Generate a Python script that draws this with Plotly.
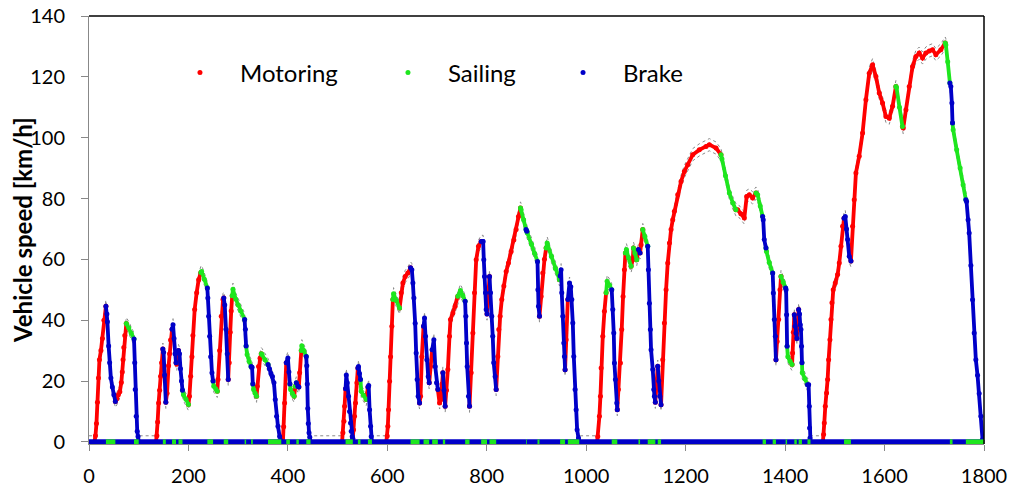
import plotly.graph_objects as go

# ---------------- data ----------------
# Phase 1 (low)
t_low = [0, 11, 13, 15, 17, 19, 21, 24, 27, 30, 34,
         36, 37, 39.5, 41.5, 44, 47, 50, 53,
         56, 59, 62, 65, 67, 68.5, 70, 72, 75,
         80, 85, 90.5,
         92, 93, 95, 97, 98.6, 100,
         135, 136.5, 138, 140, 142, 144, 146, 148.5,
         150, 152, 154.5,
         157, 160, 162, 164, 167,
         169, 171, 173, 175,
         176.5, 178, 180,
         182, 184, 186, 188,
         190, 195, 200,
         202, 204.5, 207, 209, 212.5, 216.5, 220.5, 225,
         226.5, 232, 238,
         239, 240.6, 242.6, 244.7, 247.3, 249.5,
         251, 255, 258,
         259.5, 262.7, 266, 269.5, 271,
         273, 275.5, 278, 280,
         282, 284, 286, 288,
         289.5, 295, 300, 305, 313,
         314.5, 316,
         318, 322, 326,
         328, 329.5,
         331, 334, 337,
         338.5, 341, 344, 346.5,
         348, 354, 360,
         363, 366, 369, 372, 374.6, 377.3, 380, 383.4, 386.7,
         390, 391.5, 393.4, 396.7,
         400, 402, 404,
         405.5, 409, 412.5,
         415, 417, 420, 422,
         423.6, 427,
         428, 432, 437,
         438, 439, 440, 441, 442.5, 444, 445.5,
         509, 510.6, 512.7, 514, 516,
         517.5, 519.4, 522, 524, 526, 527.4, 529.4, 530.5,
         532, 534, 536, 538.8, 540.8,
         542, 544, 546,
         547.5, 552, 557.6,
         559, 561,
         562.5, 564.3, 566.3, 567.6, 569,
         598]
v_low = [0, 0, 2, 6, 13, 21, 27, 30, 34, 40, 44.6,
         42, 39.5, 31.5, 26, 21, 18, 15.5, 13.3,
         14.2, 15.5, 16.5, 19.5, 23, 27, 31, 35, 38.9,
         37.5, 35.7, 33.8,
         26, 17.2, 8.4, 3.5, 1.8, 0,
         0, 2, 6.5, 12.8, 17, 21.6, 26, 30.5,
         29.5, 22, 13,
         16, 25, 29, 33.5, 37,
         38.5, 34, 29, 26,
         25.5, 28, 30,
         29, 24, 20, 17,
         15.5, 14, 12.3,
         15, 21.6, 28, 35, 43.5, 49, 53.3, 55.7,
         56, 53.5, 50.6,
         47.3, 41.3, 34.7, 28, 22.7, 20,
         18.3, 17.4, 16.6,
         20.5, 30, 41.3, 46.8, 47.3,
         45, 37, 29, 20.5,
         26, 36, 43, 48,
         50.2, 47, 45, 43, 40.2,
         37, 31.5,
         28.7, 26.5, 24.8,
         24.5, 19,
         17.2, 16, 15,
         18.3, 24.8, 27.5, 29,
         28.7, 27, 25.4,
         24, 22.5, 21.5, 19.4, 13.9, 8.4, 5.1, 1.8, 0,
         0, 5, 12.8, 26,
         27.6, 23, 19,
         17.2, 16, 15,
         18.3, 19.4, 18.3, 18,
         22.7, 30,
         31.6, 30, 28.1,
         25, 19, 11, 6, 3, 1.5, 0,
         0, 3, 6.8, 11.7, 17.5,
         22, 19.4, 15, 10, 6.2, 3.5, 1.8, 1,
         4, 8.4, 12.8, 19.4, 24.3,
         24.8, 22.5, 20.5,
         16.6, 15.3, 13.9,
         15.5, 18,
         18.5, 10.6, 5.1, 1.8, 0,
         0]
m_low = (["I", "I"] + ["M"] * 9 +
         ["B"] * 8 +
         ["M"] * 9 +
         ["S"] * 3 +
         ["B"] * 6 +
         ["I"] + ["M"] * 7 +
         ["B"] * 3 +
         ["M"] * 5 +
         ["B"] * 4 +
         ["M"] * 3 +
         ["B"] * 4 +
         ["S"] * 3 +
         ["M"] * 8 +
         ["S"] * 3 +
         ["B"] * 6 +
         ["S"] * 3 +
         ["M"] * 5 +
         ["B"] * 4 +
         ["M"] * 4 +
         ["S"] * 5 +
         ["B"] * 2 +
         ["S"] * 3 +
         ["B"] * 2 +
         ["S"] * 3 +
         ["M"] * 4 +
         ["S"] * 3 +
         ["B"] * 9 +
         ["I", "M", "M", "M"] +
         ["B"] * 3 +
         ["S"] * 3 +
         ["M", "S", "B", "B"] +
         ["M"] * 2 +
         ["S"] * 3 +
         ["B"] * 7 +
         ["I"] + ["M"] * 4 +
         ["B"] * 8 +
         ["M"] * 5 +
         ["B"] * 3 +
         ["S"] * 3 +
         ["M"] * 2 +
         ["B"] * 5 +
         ["I"])

# Phase 2 (medium)
t_mid = [599.8, 601, 602.4, 604.5, 606.5, 609.1, 611.2,
         612.5, 618, 624.6,
         628, 631.3, 636, 641.3, 646.7,
         649.3, 651.4, 653.4, 656, 658, 660, 662, 664.8,
         666.8, 669.4, 672.8,
         674.8, 676.8, 679.5, 682.2, 684.2,
         686.9, 690.2,
         693.6, 696.3, 698.9, 701.6,
         705, 708, 710, 711.7,
         714, 716.3,
         719, 721.7, 725, 727, 731.8, 736.4, 741.8,
         747, 752, 756.5,
         757.9, 759.2, 760.6, 763.2, 765.3,
         768.6, 772, 775.3, 778.7, 783.3, 788.7,
         792.7, 794, 795.4, 797.4, 798.8, 800.5,
         803, 805.5,
         807.5, 810, 812, 814, 816.8, 818.9,
         822.2, 824.2, 826.9, 830.2, 834.3, 839, 843.6, 849, 854.4, 859, 863.7, 867.8,
         869, 874, 879,
         880.5,
         881.5, 890, 896, 902,
         902.8, 904, 906,
         909.3, 912.7, 916, 919.4,
         921.4, 930, 938, 946.2,
         947.5,
         949.5, 950.8, 952.9, 954.9, 956.2, 957.5,
         959.6, 963,
         966.3, 969, 971, 973, 975, 977.6, 979.7, 981.7, 984.4, 986]
v_mid = [1.9, 5.1, 10.6, 19.9, 28, 38, 46.8,
         48.7, 46.5, 44,
         49, 52.2, 54.4, 55.5, 57.2,
         56.6, 52.2, 47.3, 39, 29.2, 20.5, 15, 12.8,
         15, 28, 38,
         40.7, 34.7, 27, 21.5, 19.4,
         24.8, 30.3,
         33.6, 24.8, 19.4, 17.2,
         12.8, 13.9, 19, 22.7,
         17, 11.7,
         17, 23.8, 34.7, 40.2, 42.4, 44.6, 47.9,
         49.8, 48, 46.2,
         41.3, 32.5, 24.8, 15, 11.7,
         22.7, 35.8, 49, 59.9, 64.3, 65.9,
         65.9, 59.9, 54.4, 49, 43.5, 42,
         50, 54.4,
         49, 41.3, 34.7, 26, 21.5, 17.2,
         28.1, 36.9, 41.3, 46.8, 51.2, 56, 58.8, 62.6, 66.4, 69.8, 74.1, 76.9,
         76.3, 73, 69.8,
         69.2,
         68.7, 65, 62, 59.3,
         50, 44.6, 41.3,
         47.8, 55.5, 60, 63.7,
         65.4, 61, 57, 53.3,
         54.5,
         56.6, 49, 41.3, 32.5, 28.1, 23.7,
         33.6, 46.8,
         52.2, 51, 46.8, 39.1, 28.1, 17.2, 10.6, 4, 1.3, 0]
m_mid = (["M"] * 7 +
         ["S"] * 3 +
         ["M"] * 5 +
         ["B"] * 8 +
         ["M"] * 3 +
         ["B"] * 5 +
         ["M"] * 2 +
         ["B"] * 4 +
         ["M"] * 4 +
         ["B"] * 2 +
         ["M"] * 7 +
         ["S"] * 3 +
         ["B"] * 5 +
         ["M"] * 6 +
         ["B"] * 6 +
         ["M"] * 2 +
         ["B"] * 6 +
         ["M"] * 12 +
         ["S"] * 3 +
         ["B"] +
         ["S"] * 4 +
         ["B"] * 3 +
         ["M"] * 4 +
         ["S"] * 4 +
         ["M"] +
         ["B"] * 6 +
         ["M"] * 2 +
         ["B"] * 10)

# Phase 3 (high)
t_high = [1022,
          1023.2, 1026.5, 1028.6, 1030, 1033.3, 1036.6, 1040,
          1042, 1047, 1051.3,
          1053.4, 1055.4, 1056.7, 1058.7, 1061.4, 1062.5,
          1064.7, 1068.8, 1071.4, 1074.1, 1076.8, 1078.8,
          1080.8, 1085, 1090.2,
          1093.6, 1095,
          1098, 1101.6,
          1105, 1108.3, 1110.3, 1113.7,
          1118, 1123.7,
          1125, 1127, 1129, 1130.4, 1133.8, 1135.8, 1137.1, 1139,
          1141, 1143.8,
          1146, 1148, 1150.5,
          1153.9, 1157.2, 1160.6, 1163.9, 1167.3, 1170.6, 1174, 1177.3, 1184,
          1190.7, 1197.4, 1204.1, 1214.2, 1227.5, 1241, 1247.6, 1261, 1271,
          1273, 1280, 1287.8, 1295, 1301,
          1304.6, 1311, 1318, 1322.7, 1328, 1334.7, 1341.4,
          1344.8, 1350, 1354.8,
          1356, 1358, 1361.5,
          1362.5, 1368, 1375,
          1376.3, 1378.3, 1380.3, 1381.6,
          1384, 1387, 1389.7, 1391.7,
          1396, 1401,
          1402, 1403, 1404,
          1405.5, 1410, 1414,
          1415, 1416.5, 1418.5,
          1420, 1421.8, 1423.5,
          1425.5, 1427.2,
          1429, 1430.5, 1431.9, 1433, 1433.9,
          1434.5, 1440, 1445,
          1447.3, 1448.6, 1449.2, 1450, 1451,
          1476]
v_high = [0,
          1.8, 8.4, 15, 24.3, 34.7, 42.9, 49,
          52.8, 51.5, 50,
          43.5, 35.8, 25.9, 20.5, 12.8, 10.6,
          17.2, 25.9, 36.9, 47.8, 56.6, 62.1,
          63.2, 60.5, 57.7,
          59.9, 63.7,
          62, 59.9,
          63.2, 62.1, 64.8, 69.8,
          67.5, 64.3,
          56.6, 45.6, 36.9, 30.3, 23.8, 17.2, 15, 13,
          18, 24.9,
          20, 15, 12.2,
          27, 39.1, 50, 58.8, 65.4, 69.8, 73, 75.8, 81.2,
          85.6, 88.9, 91.1, 94.4, 96, 97.1, 97.7, 96.6, 94.4,
          93, 87.5, 81.8, 78.5, 76.3,
          76.3, 75, 73.6, 80.7, 81.2, 80.2, 81.8,
          81.2, 77.5, 74.1,
          73, 66.5, 63.7,
          62.6, 59, 55.5,
          48.9, 40.2, 34.7, 27,
          33, 40.2, 50, 54.4,
          52.5, 50.6,
          50, 41.8, 31.4,
          28, 26.5, 25.4,
          29.2, 36, 41.8,
          38, 35.8, 34,
          39, 43.5,
          42, 38.5, 36.9, 31.4, 26,
          22.7, 20.7, 18.8,
          18.8, 11.7, 4.6, 1.3, 0,
          0]
m_high = (["I"] +
          ["M"] * 7 +
          ["S"] * 3 +
          ["B"] * 6 +
          ["M"] * 6 +
          ["S"] * 3 +
          ["M"] * 2 +
          ["S"] * 2 +
          ["M", "B", "M", "M"] +
          ["S"] * 2 +
          ["B"] * 8 +
          ["M"] * 2 +
          ["B"] * 3 +
          ["M"] * 9 +
          ["M"] * 9 +
          ["S"] * 5 +
          ["M"] * 7 +
          ["S"] * 3 +
          ["B"] * 3 +
          ["S"] * 3 +
          ["B"] * 4 +
          ["M"] * 4 +
          ["S"] * 2 +
          ["B"] * 3 +
          ["S"] * 3 +
          ["M"] * 3 +
          ["B"] * 3 +
          ["M"] * 2 +
          ["B"] * 5 +
          ["S"] * 3 +
          ["B"] * 5 +
          ["I"])

# Phase 4 (extra high)
t_xhigh = [1477.4, 1478.8, 1480.8, 1483.4, 1485.5, 1487.5, 1490.1, 1492.2,
           1494.2, 1496.8, 1500.9, 1505.6, 1508.9, 1512.3, 1515.6, 1518.5,
           1521, 1523.5, 1525.7, 1529, 1532.4,
           1535.7, 1539, 1542.4, 1549, 1555.8, 1562.5, 1569.2, 1575.9,
           1582.6, 1589.3, 1596, 1602.7, 1609.4, 1616.1, 1622.8,
           1624, 1630, 1636,
           1637.6, 1643, 1649.6, 1656.3, 1663, 1669.7, 1676.4,
           1683, 1690, 1696.5, 1703.2, 1713.2, 1722,
           1723.3, 1727, 1731.4,
           1733.3, 1735.4, 1736.7,
           1738, 1745, 1752, 1758, 1763.5,
           1764.9, 1768, 1770.2, 1773.6, 1777, 1780.3, 1783.6, 1787,
           1790.3, 1793.7, 1797, 1800]
v_xhigh = [2.4, 6.2, 11.7, 16.1, 20.5, 27, 33.6, 40.2,
           45.7, 50, 52.2, 55, 58.8, 64.3, 70.9, 73.5,
           74.1, 70, 66.5, 61, 59.5,
           70.9, 79.6, 88.4, 93.9, 101.5, 112.5, 121.2, 124,
           120.1, 114.7, 111.4, 107, 106.4, 110.3, 116.8,
           116.5, 110, 103.7,
           103.2, 109.2, 116.8, 123.4, 126.7, 127.8, 126.2,
           127.8, 128.5, 128.9, 127.3, 128.9, 131.1,
           130.5, 125, 118,
           116.8, 111.4, 104.8,
           102.6, 96, 90, 84.5, 79.6,
           79, 73, 68.7, 58, 46.7, 35.8, 27, 21.9,
           15.9, 8.4, 0.8, 0]
m_xhigh = (["M"] * 16 +
           ["B"] * 5 +
           ["M"] * 15 +
           ["S"] * 3 +
           ["M"] * 13 +
           ["S"] * 3 +
           ["B"] * 3 +
           ["S"] * 5 +
           ["B"] * 12)

mode_names = {"M": "Motoring", "S": "Sailing", "B": "Brake"}
mode_colors = {"M": "#ff0000", "S": "#1ee61e", "B": "#0000c8"}
tolerance_kmh = 2.0

x_ticks = list(range(0, 1801, 200))
y_ticks = list(range(0, 141, 20))

# ---------------- assemble ----------------
time_s = t_low + t_mid + t_high + t_xhigh
speed = v_low + v_mid + v_high + v_xhigh
mode = m_low + m_mid + m_high + m_xhigh
assert len(t_low) == len(v_low) == len(m_low), (len(t_low), len(v_low), len(m_low))
assert len(t_mid) == len(v_mid) == len(m_mid), (len(t_mid), len(v_mid), len(m_mid))
assert len(t_high) == len(v_high) == len(m_high), (len(t_high), len(v_high), len(m_high))
assert len(t_xhigh) == len(v_xhigh) == len(m_xhigh), (len(t_xhigh), len(v_xhigh), len(m_xhigh))

fig = go.Figure()

# tolerance band (derived from the trace)
upper = [v + tolerance_kmh for v in speed]
lower = [max(v - tolerance_kmh, 0) for v in speed]
for band in (upper, lower):
    fig.add_trace(go.Scatter(x=time_s, y=band, mode="lines",
                             line=dict(color="#8a8a8a", width=1, dash="dot"),
                             showlegend=False, hoverinfo="skip"))


def segments(code, yvals):
    xs, ys = [], []
    prev_in = False
    for i in range(1, len(time_s)):
        if mode[i] == code:
            if not prev_in:
                xs.append(time_s[i - 1]); ys.append(yvals[i - 1])
            xs.append(time_s[i]); ys.append(yvals[i])
            prev_in = True
        else:
            if prev_in:
                xs.append(None); ys.append(None)
            prev_in = False
    return xs, ys


zeros = [0] * len(time_s)
for code in ("M", "S", "B"):
    xs, ys = segments(code, speed)
    fig.add_trace(go.Scatter(x=xs, y=ys, mode="lines+markers",
                             line=dict(color=mode_colors[code], width=3.8),
                             marker=dict(color=mode_colors[code], size=5),
                             showlegend=False, hoverinfo="skip"))

# zero level of the mode series: blue everywhere, green while braking
fig.add_trace(go.Scatter(x=[time_s[0], time_s[-1]], y=[0, 0], mode="lines",
                         line=dict(color=mode_colors["B"], width=5),
                         showlegend=False, hoverinfo="skip"))
zx_b, zy_b = segments("B", zeros)
fig.add_trace(go.Scatter(x=zx_b, y=zy_b, mode="lines",
                         line=dict(color=mode_colors["S"], width=5),
                         showlegend=False, hoverinfo="skip"))

# legend entries
legend_keys = {"M": "legend", "S": "legend2", "B": "legend3"}
for code in ("M", "S", "B"):
    fig.add_trace(go.Scatter(x=[None], y=[None], mode="markers",
                             marker=dict(color=mode_colors[code], size=5),
                             name=mode_names[code], legend=legend_keys[code]))

leg_common = dict(font=dict(family="Lato", size=24, color="black"),
                  bgcolor="rgba(0,0,0,0)", itemwidth=70,
                  yanchor="middle", xanchor="left", y=0.867)

fig.update_layout(
    width=1013, height=488,
    margin=dict(l=89, r=29, t=16, b=44),
    plot_bgcolor="white", paper_bgcolor="white",
    font=dict(family="Lato", size=20, color="black"),
    legend=dict(x=0.0793, **leg_common),
    legend2=dict(x=0.3117, **leg_common),
    legend3=dict(x=0.5073, **leg_common),
    xaxis=dict(range=[0, 1800], tickmode="array", tickvals=x_ticks,
               ticks="outside", ticklen=6, tickcolor="#888888",
               showline=True, linecolor="#888888", showgrid=False,
               zeroline=False, layer="below traces", ticklabelstandoff=8,
               automargin=False,
               minor=dict(dtick=30, tick0=0, ticks="inside", ticklen=4,
                          tickcolor="#999999", showgrid=False)),
    yaxis=dict(range=[-0.7, 140], tickmode="array", tickvals=y_ticks,
               ticks="outside", ticklen=7, tickcolor="#888888",
               showline=True, linecolor="#888888", showgrid=False,
               zeroline=False, ticklabelstandoff=12, automargin=False),
    shapes=[dict(type="line", xref="paper", yref="paper", x0=0, x1=1, y0=1, y1=1,
                 line=dict(color="black", width=1.5)),
            dict(type="line", xref="paper", yref="paper", x0=1, x1=1, y0=0, y1=1,
                 line=dict(color="black", width=1.5))],
    annotations=[dict(text="<b>Vehicle speed [km/h]</b>", xref="paper", yref="paper",
                      x=-0.0749, y=0.5, textangle=-90, showarrow=False,
                      xanchor="center", yanchor="middle",
                      font=dict(family="Lato", size=24, color="black"))],
)

fig.write_html("out.html")
